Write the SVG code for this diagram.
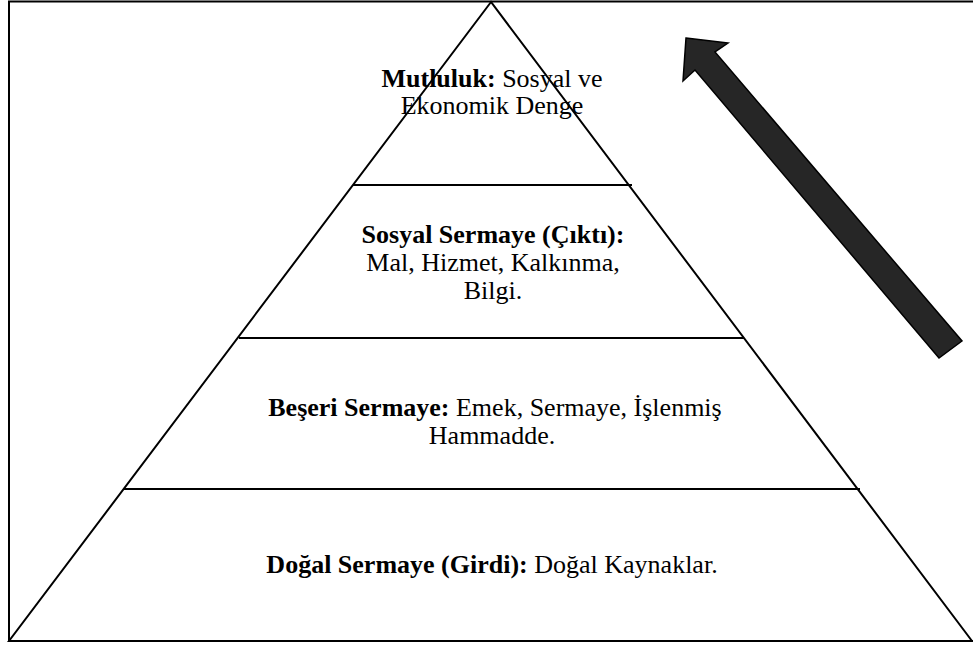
<svg xmlns="http://www.w3.org/2000/svg" width="973" height="646" viewBox="0 0 973 646">
  <style>
    .line { stroke: #000; stroke-width: 2; fill: none; }
    .lbl { font-family: "Liberation Serif", "Times New Roman", serif; font-size: 26px; fill: #000; text-anchor: middle; }
    .b { font-weight: bold; }
  </style>
  <rect width="973" height="646" fill="#fff"/>
  <!-- outer frame -->
  <path class="line" d="M985 1.5 H9 V641 H985"/>
  <!-- pyramid -->
  <g id="pyramid">
    <polygon class="line" points="491,2 9,641 972,641"/>
    <line class="line" x1="353" y1="185" x2="632" y2="185"/>
    <line class="line" x1="239" y1="338" x2="744" y2="338"/>
    <line class="line" x1="123" y1="489" x2="860" y2="489"/>
  </g>
  <g id="level-mutluluk">
    <text class="lbl" x="492" y="87"><tspan class="b">Mutluluk:</tspan> Sosyal ve</text>
    <text class="lbl" x="492" y="114">Ekonomik Denge</text>
  </g>
  <g id="level-sosyal">
    <text class="lbl b" x="493" y="243">Sosyal Sermaye (Çıktı):</text>
    <text class="lbl" x="493" y="271">Mal, Hizmet, Kalkınma,</text>
    <text class="lbl" x="493" y="299">Bilgi.</text>
  </g>
  <g id="level-beseri">
    <text class="lbl" x="495" y="416"><tspan class="b">Beşeri Sermaye:</tspan> Emek, Sermaye, İşlenmiş</text>
    <text class="lbl" x="492" y="444">Hammadde.</text>
  </g>
  <g id="level-dogal">
    <text class="lbl" x="492" y="573"><tspan class="b">Doğal Sermaye (Girdi):</tspan> Doğal Kaynaklar.</text>
  </g>
  <!-- upward block arrow -->
  <g id="connectors">
    <polygon points="686,38 728,43 715,52 962,341 939,358 695,70 683,81" fill="#262626" stroke="#000" stroke-width="1.5" stroke-linejoin="miter"/>
  </g>
</svg>
